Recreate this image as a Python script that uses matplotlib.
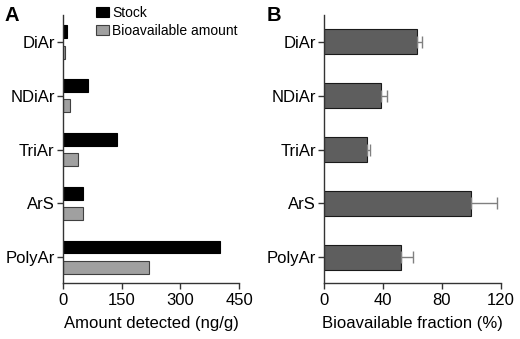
import matplotlib
matplotlib.use("Agg")
import matplotlib.pyplot as plt
import numpy as np

plt.rcParams['font.family'] = ['Liberation Sans', 'DejaVu Sans']

categories = ["DiAr", "NDiAr", "TriAr", "ArS", "PolyAr"]
stock = [10, 63, 137, 51, 401]
bioavailable = [6, 19, 39, 50, 219]
fraction = [62.8, 38.8, 28.8, 99.6, 52.4]
fraction_err = [4.0, 3.6, 2.4, 18.0, 8.0]

fig = plt.figure(figsize=(5.2, 3.39), dpi=100)
axA = fig.add_axes([0.1212, 0.165, 0.3385, 0.791])
axB = fig.add_axes([0.6237, 0.165, 0.339, 0.791])

y = np.arange(len(categories))
h = 0.24
axA.barh(y - 0.19, stock, height=h, color="black", edgecolor="black", linewidth=0.8, label="Stock")
axA.barh(y + 0.19, bioavailable, height=h, color="#a0a0a0", edgecolor="#404040", linewidth=0.8,
         label="Bioavailable amount")

axB.barh(y, fraction, height=0.47, color="#5e5e5e", edgecolor="#1a1a1a", linewidth=0.8)
axB.errorbar(fraction, y, xerr=[np.zeros(len(fraction)), fraction_err], fmt="none",
             ecolor="#808080", elinewidth=1.0, capsize=4, capthick=1.0)

for ax in (axA, axB):
    ax.set_yticks(y)
    ax.set_yticklabels(categories)
    ax.set_ylim(4.48, -0.5)
    for s in ("top", "right"):
        ax.spines[s].set_visible(False)
    for s in ("left", "bottom"):
        ax.spines[s].set_color("#333333")
        ax.spines[s].set_linewidth(1.0)
    ax.tick_params(axis="both", direction="out", length=4, width=1.0, color="#333333",
                   labelsize=12)
    ax.tick_params(axis="y", pad=2)
    ax.tick_params(axis="x", pad=3)

axA.set_xlim(0, 450)
axA.set_xticks([0, 150, 300, 450])
axA.set_xlabel("Amount detected (ng/g)", fontsize=12, labelpad=6)
axB.set_xlim(0, 120)
axB.set_xticks([0, 40, 80, 120])
axB.set_xlabel("Bioavailable fraction (%)", fontsize=12, labelpad=6)

axA.legend(loc="upper left", bbox_to_anchor=(0.19, 1.035), frameon=False, fontsize=10,
           handlelength=0.9, handleheight=0.7, handletextpad=0.25, labelspacing=0.32,
           borderaxespad=0, borderpad=0)

fig.text(0.008, 1 - 21 / 339, "A", fontsize=14.5, fontweight="bold", va="baseline", ha="left")
fig.text(0.512, 1 - 21 / 339, "B", fontsize=14.5, fontweight="bold", va="baseline", ha="left")

fig.savefig("out.png", dpi=100)
